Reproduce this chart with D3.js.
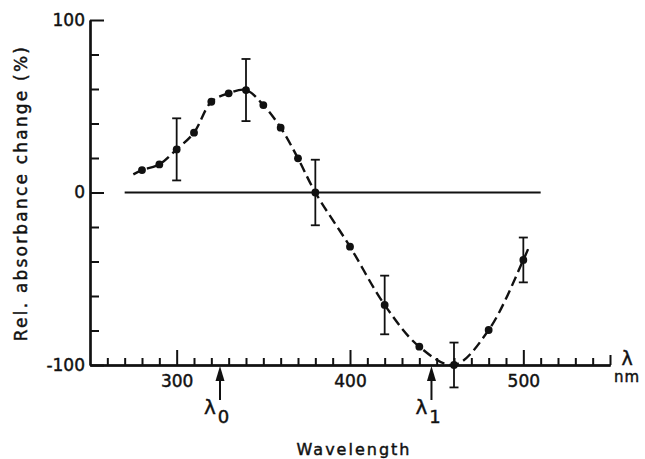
<!DOCTYPE html>
<html>
<head>
<meta charset="utf-8">
<script src="https://cdn.jsdelivr.net/npm/d3@7"></script>
<style>
  html, body { margin: 0; padding: 0; background: #fff; }
  svg { display: block; }
  text { font-family: "DejaVu Sans", sans-serif; fill: #111; stroke: #111; stroke-width: 0.45px; }
</style>
</head>
<body>
<svg id="chart" width="645" height="459"></svg>
<script>
// Measured relative absorbance change vs wavelength
const wavelengths = [280, 290, 300, 310, 320, 330, 340, 350, 360, 370, 380, 400, 420, 440, 460, 480, 500];
const absChange   = [13, 16.3, 25, 34.7, 52.6, 57.5, 59.4, 50.7, 37.6, 19.8, 0, -31.4, -65.2, -89.4, -100, -79.7, -39.1];

// Error bars (wavelength, half-width)
const errWavelengths = [300, 340, 380, 420, 460, 500];
const errHalfWidth   = [18, 18, 19, 17, 13, 13];

// Dashed fit curve runs a little beyond the first and last measurement
const curveStart = [275, 10.5];
const curveEnd   = [503.5, -31];

// Marked wavelengths λ0 and λ1
const markerWavelengths = [325, 447];
const markerSubscripts  = ["0", "1"];

// Axis ticks
const xMajorTicks = [300, 400, 500];
const xTickLabels = ["300", "400", "500"];
const yMajorTicks = [100, 0, -100];
const yTickLabels = ["100", "0", "-100"];
const yMinorTicks = [80, 60, 40, 20, -20, -40, -60, -80];

const xDomain = [250, 550];
const yDomain = [-100, 100];
const baseline = [270, 510];   // extent of the zero reference line

const svg = d3.select("#chart");
const x = d3.scaleLinear().domain(xDomain).range([90, 610]);
const y = d3.scaleLinear().domain(yDomain).range([365, 20]);

const ink = "#111";

// --- X axis: minor ticks every 10 nm, major at 300/400/500, end tick at 550
const xMinor = d3.range(260, 550, 10).filter(v => !xMajorTicks.includes(v));
const gx = svg.append("g").attr("transform", `translate(0,${y(-100)})`);
gx.append("g").call(d3.axisBottom(x).tickValues(xMinor).tickSize(-7).tickSizeOuter(0).tickFormat(""));
gx.append("g").call(d3.axisBottom(x).tickValues([550]).tickSize(-10).tickSizeOuter(0).tickFormat(""));
gx.append("g").call(d3.axisBottom(x).tickValues(xMajorTicks).tickSize(-15).tickSizeOuter(0)
  .tickPadding(10).tickFormat((d, i) => xTickLabels[i]));
gx.selectAll("path.domain").attr("stroke", ink).attr("stroke-width", 2.2);
gx.selectAll(".tick line").attr("stroke", ink).attr("stroke-width", 2);
gx.selectAll(".tick text").attr("font-size", 17).attr("font-family", "DejaVu Sans").attr("fill", ink);

// --- Y axis
const gy = svg.append("g").attr("transform", `translate(${x(250)},0)`);
gy.append("g").call(d3.axisLeft(y).tickValues(yMinorTicks).tickSize(-9).tickSizeOuter(0).tickFormat(""));
gy.append("g").call(d3.axisLeft(y).tickValues(yMajorTicks).tickSize(-14).tickSizeOuter(0)
  .tickPadding(5).tickFormat((d, i) => yTickLabels[i]));
gy.selectAll("path.domain").attr("stroke", ink).attr("stroke-width", 2.2);
gy.selectAll(".tick line").attr("stroke", ink).attr("stroke-width", 2);
gy.selectAll(".tick text").attr("font-size", 17).attr("font-family", "DejaVu Sans").attr("fill", ink);

// --- zero reference line
svg.append("line")
  .attr("x1", x(baseline[0])).attr("x2", x(baseline[1]))
  .attr("y1", y(0)).attr("y2", y(0))
  .attr("stroke", ink).attr("stroke-width", 1.8);

// --- dashed fit curve through the measurements
const curvePts = [curveStart].concat(wavelengths.map((w, i) => [w, absChange[i]]), [curveEnd]);
svg.append("path")
  .datum(curvePts)
  .attr("fill", "none")
  .attr("stroke", ink)
  .attr("stroke-width", 2.4)
  .attr("stroke-dasharray", "10,5")
  .attr("d", d3.line().x(d => x(d[0])).y(d => y(d[1])).curve(d3.curveCatmullRom.alpha(0.5)));

// --- error bars
const eb = svg.append("g").attr("stroke", ink).attr("stroke-width", 1.8);
errWavelengths.forEach((w, i) => {
  const v = absChange[wavelengths.indexOf(w)];
  const hi = v + errHalfWidth[i], lo = v - errHalfWidth[i];
  const cx = x(w);
  eb.append("line").attr("x1", cx).attr("x2", cx).attr("y1", y(hi)).attr("y2", y(lo));
  eb.append("line").attr("x1", cx - 4.5).attr("x2", cx + 4.5).attr("y1", y(hi)).attr("y2", y(hi));
  eb.append("line").attr("x1", cx - 4.5).attr("x2", cx + 4.5).attr("y1", y(lo)).attr("y2", y(lo));
});

// --- data points
svg.append("g").selectAll("circle")
  .data(wavelengths)
  .join("circle")
  .attr("cx", d => x(d))
  .attr("cy", (d, i) => y(absChange[i]))
  .attr("r", 3.9)
  .attr("fill", ink);

// --- λ0 / λ1 arrows below the axis
markerWavelengths.forEach((w, i) => {
  const ax = x(w), tip = y(-100) + 1;
  const g = svg.append("g");
  g.append("line").attr("x1", ax).attr("x2", ax).attr("y1", tip + 10).attr("y2", 400)
    .attr("stroke", ink).attr("stroke-width", 2);
  g.append("path")
    .attr("d", `M${ax},${tip} L${ax - 4.5},${tip + 15} L${ax + 4.5},${tip + 15} Z`)
    .attr("fill", ink);
  const t = g.append("text").attr("x", ax - 16).attr("y", 414).attr("font-size", 20);
  t.append("tspan").text("λ");
  t.append("tspan").attr("dy", 9).attr("dx", 2).attr("font-size", 18).text(markerSubscripts[i]);
});

// --- axis unit on the right
svg.append("text").attr("x", 627).attr("y", 365).attr("text-anchor", "middle")
  .attr("font-size", 19).text("λ");
svg.append("text").attr("x", 627).attr("y", 382).attr("text-anchor", "middle")
  .attr("font-size", 15).attr("letter-spacing", 1).text("nm");

// --- axis titles
svg.append("text")
  .attr("x", 354).attr("y", 455).attr("text-anchor", "middle")
  .attr("font-size", 16).attr("letter-spacing", 2)
  .text("Wavelength");

svg.append("text")
  .attr("transform", "translate(27,193) rotate(-90)")
  .attr("text-anchor", "middle")
  .attr("font-size", 17).attr("letter-spacing", 2.2)
  .text("Rel. absorbance change (%)");
</script>
</body>
</html>
